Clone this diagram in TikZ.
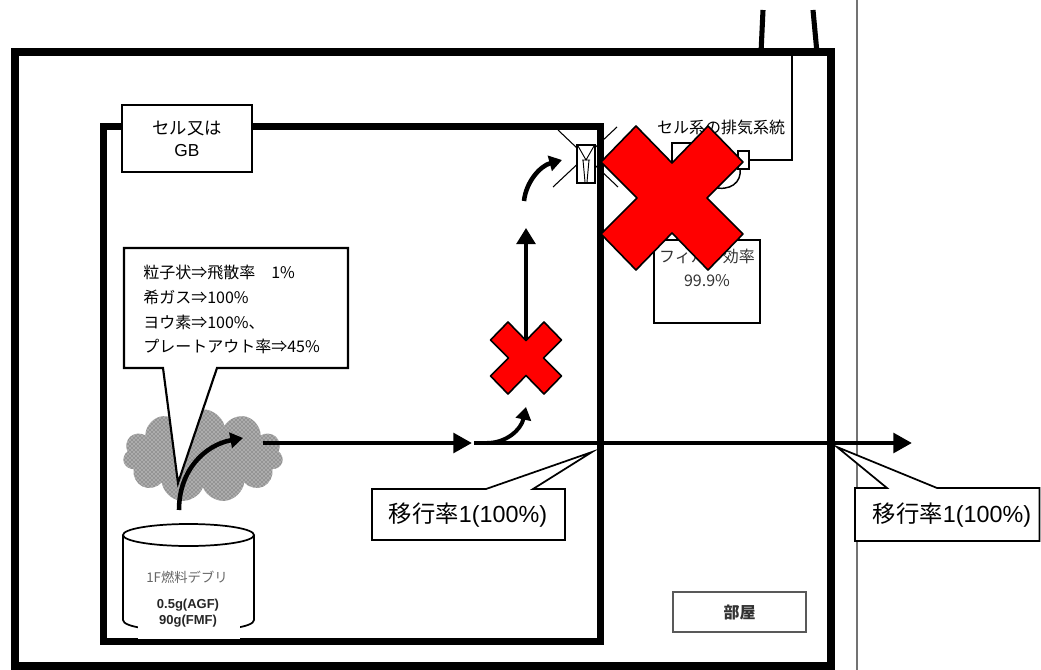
\documentclass[tikz,border=0pt]{standalone}
\usepackage{fontspec}
\setmainfont{Liberation Sans}
\newfontfamily\jp{Noto Sans CJK JP}
\usetikzlibrary{arrows.meta,shapes.symbols,patterns}

\begin{document}
\begin{tikzpicture}[x=0.75pt,y=-0.75pt,
  wall/.style={line width=6pt},
  cellwall/.style={line width=5.25pt},
  flow/.style={line width=3.6pt,-{Triangle[length=14pt,width=14.5pt]}},
  bendflow/.style={line width=3.4pt,-{Triangle[length=9.5pt,width=11.5pt]}},
  thinline/.style={line width=1.1pt},
  callout/.style={draw,fill=white,line width=1.3pt,line join=miter},
  jptext/.style={font=\jp\fontsize{12}{18}\selectfont},
  redx/.pic={
    \filldraw[fill=red,draw=black,line width=1.2pt,line join=round]
      (0,-35) -- (36,-72) -- (71,-36) -- (35,0) -- (71,36) -- (36,72)
      -- (0,35) -- (-36,72) -- (-71,36) -- (-35,0) -- (-71,-36) -- (-36,-72) -- cycle;
  }
]
\useasboundingbox (0,0) rectangle (1041,670);

% stack above the building and the boundary line outside it
\draw[line width=3.8pt] (763,10) -- (761,53);
\draw[line width=3.8pt] (813,10) -- (817,53);
\draw[line width=0.8pt,black!55] (857,0) -- (857,670);

% room (outer) and cell / glove box (inner)
\draw[wall] (15,52) rectangle (831,666);
\draw[cellwall] (103,127) rectangle (600,641);

% exhaust duct of the cell system
\draw[thinline] (792,56) -- (792,160) -- (749,160);
\draw[thinline,fill=white] (672,143) rectangle (700,176);
\draw[thinline,fill=white] (738,151) rectangle (749,169);
\draw[thinline] (713,187) .. controls (730,192) and (742,182) .. (740,169);
\node[jptext] (exhaust) at (721,127) {セル系の排気系統};

% filter
\draw[line width=1.5pt] (654,240) rectangle (760,323);
\node[jptext,align=center,text=black!80] (filter) at (707,268) {フィルタ効率\\99.9\%};

% damper in the cell wall
\draw[line width=0.8pt] (558,130) -- (618,187);
\draw[line width=0.8pt] (617,127) -- (553,187);
\draw[thinline,fill=white] (577,145) rectangle (595,183);
\draw[line width=0.7pt] (578,146) -- (586,160) -- (594,146)
  (582,160) -- (590,160) (583,160) -- (585,182) (589,160) -- (587,182);

% cell label
\node[draw,fill=white,line width=1.5pt,minimum width=97.5pt,minimum height=50.25pt,
  align=center,font=\fontsize{13}{16.5}\selectfont] (cell) at (187,138.5)
  {{\jp セル又は}\\GB};

% dust cloud
\node[cloud,cloud puffs=11,aspect=1.75,minimum width=120pt,minimum height=70pt,
  preaction={fill=black!42},pattern=crosshatch dots,pattern color=white]
  (cloud) at (203,456) {};

% speech bubble with release fractions
\filldraw[fill=white,line width=1.6pt,line join=miter]
  (124,248) -- (348,248) -- (348,368) -- (217,368) -- (178,483) -- (163,368)
  -- (124,368) -- cycle;
\node[anchor=north west,inner sep=0pt,align=left,font=\jp\fontsize{12}{18.5}\selectfont]
  (fractions) at (143,265)
  {粒子状⇒飛散率　1\%\\希ガス⇒100\%\\ヨウ素⇒100\%、\\プレートアウト率⇒45\%};

% fuel debris container
\filldraw[fill=white,line width=1.3pt] (123,535) -- (123,620)
  .. controls (123,634.7) and (254,634.7) .. (254,620) -- (254,535);
\filldraw[fill=white,line width=1.3pt] (188.5,535) ellipse [x radius=65.5,y radius=11];
\fill[white] (138,626) rectangle (240,639);
\node[font=\jp\fontsize{10}{12}\selectfont,text=black!60] (debris) at (187,577) {1F燃料デブリ};
\node[font=\bfseries\fontsize{9.75}{12.5}\selectfont,align=center,text=black!85] (mass) at (188,613)
  {0.5g(AGF)\\90g(FMF)};

% flow coordinates
\coordinate (src) at (179,510);
\coordinate (cloudtip) at (243,438);
\coordinate (fa) at (263,443);
\coordinate (fb) at (472,443);
\coordinate (fc) at (474,443);
\coordinate (out) at (912,443);
\coordinate (ba) at (487,443);
\coordinate (bb) at (526,407);
\coordinate (va) at (526,345);
\coordinate (vb) at (526,228);
\coordinate (ua) at (524,201);
\coordinate (ub) at (562,160);

\draw[bendflow] (src) .. controls (179,470) and (205,445) .. (cloudtip);
\draw[flow] (fa) -- (fb);
\draw[flow] (fc) -- (out);
\draw[bendflow,line width=3pt] (ba) .. controls (506,443) and (521,430) .. (bb);
\draw[line width=2.6pt,-{Triangle[length=12pt,width=14pt]}] (va) -- (vb);
\draw[bendflow] (ua) .. controls (526,182) and (540,166) .. (ub);

% blocked paths
\pic[scale=0.5] (smallx) at (526,358) {redx};
\pic (bigx) at (672,198) {redx};

% transfer fraction callouts
\filldraw[callout] (372,489) -- (486,489) -- (592,452) -- (533,489) -- (565,489)
  -- (565,540) -- (372,540) -- cycle;
\node[font=\fontsize{17.5}{20}\selectfont] (rate1) at (468,515) {{\jp 移行率}1(100\%)};
\filldraw[callout] (855,488) -- (887,488) -- (837,447) -- (937,488) -- (1039.5,488)
  -- (1039.5,541) -- (855,541) -- cycle;
\node[font=\fontsize{17.5}{20}\selectfont] (rate2) at (952,515) {{\jp 移行率}1(100\%)};

% room label
\node[draw=black!65,line width=0.9pt,minimum width=99.75pt,minimum height=30pt,
  font=\jp\bfseries\fontsize{12}{14}\selectfont,text=black!80] (room) at (739.5,612) {部屋};
\end{tikzpicture}
\end{document}
